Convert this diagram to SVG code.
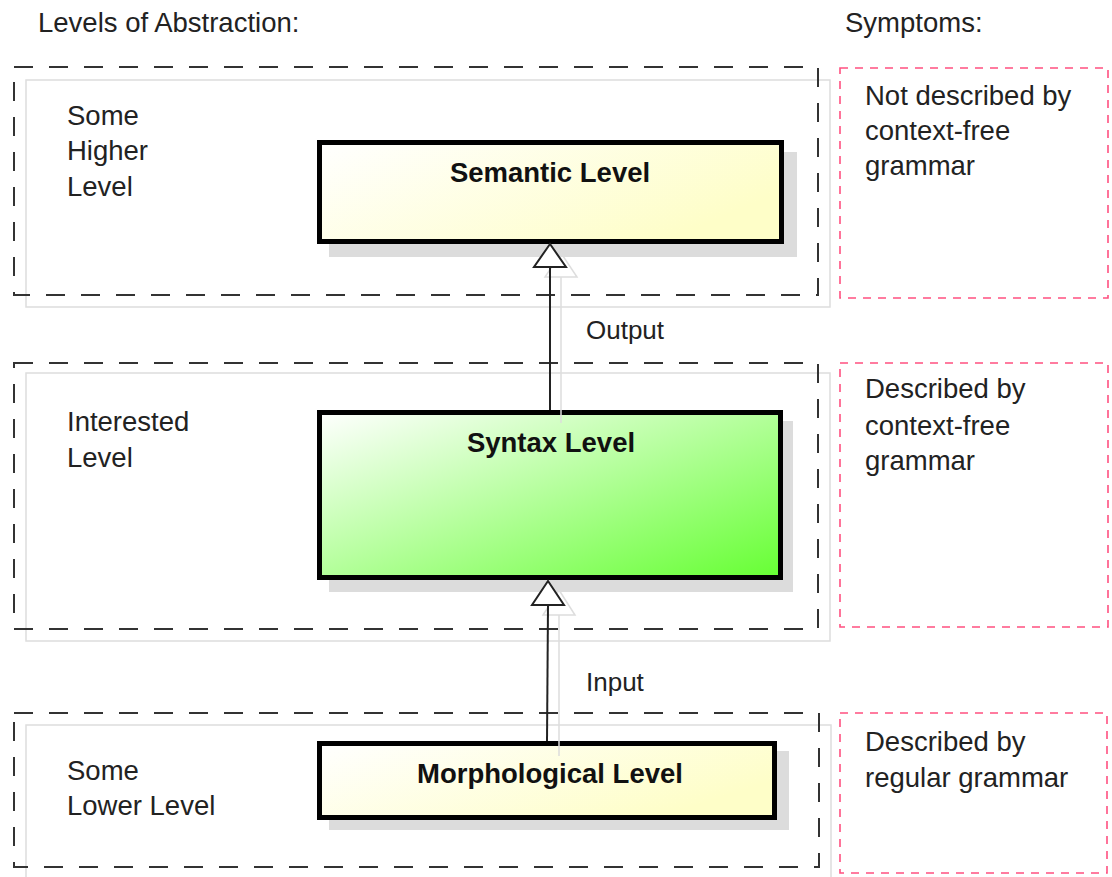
<svg xmlns="http://www.w3.org/2000/svg" width="1112" height="877" viewBox="0 0 1112 877">
<defs>
<linearGradient id="gy" x1="0" y1="0" x2="1" y2="0.5">
<stop offset="0" stop-color="#ffffff"/>
<stop offset="1" stop-color="#fefec8"/>
</linearGradient>
<linearGradient id="gg" x1="0" y1="0" x2="1" y2="1">
<stop offset="0" stop-color="#ffffff"/>
<stop offset="1" stop-color="#66ff33"/>
</linearGradient>
<style>
.t{font-family:"Liberation Sans",Arial,sans-serif;font-size:27.5px;fill:#222}
.b{font-family:"Liberation Sans",Arial,sans-serif;font-size:27.5px;font-weight:bold;fill:#111;text-anchor:middle}
.dash{fill:none;stroke:#333;stroke-width:2;stroke-dasharray:19 16}
.pink{fill:none;stroke:#ff5080;stroke-width:1.6;stroke-dasharray:8 7}
.frame{fill:none;stroke:#ddd;stroke-width:1.5}
.shadow{fill:#dcdcdc}
.box{stroke:#000;stroke-width:5}
.edge{stroke:#222;stroke-width:2;fill:none}
.ghost{stroke:#ddd;stroke-width:1.5;fill:none}
.head{fill:#fff;stroke:#222;stroke-width:2}
</style>
</defs>
<rect width="1112" height="877" fill="#fff"/>

<g id="headers">
<text class="t" x="38" y="32">Levels of Abstraction:</text>
<text class="t" x="845" y="32">Symptoms:</text>
</g>

<g id="higher-level">
<rect class="frame" x="26" y="80" width="804" height="227"/>
<rect class="dash" x="14" y="67" width="804" height="228"/>
<text class="t" x="67" y="125">Some</text>
<text class="t" x="67" y="160">Higher</text>
<text class="t" x="67" y="196">Level</text>
</g>

<g id="interested-level">
<rect class="frame" x="26" y="373" width="804" height="268"/>
<rect class="dash" x="14" y="363" width="804" height="266"/>
<text class="t" x="67" y="431">Interested</text>
<text class="t" x="67" y="467">Level</text>
</g>

<g id="lower-level">
<rect class="frame" x="26" y="725" width="805" height="180"/>
<rect class="dash" x="14" y="713" width="805" height="154"/>
<text class="t" x="67" y="780">Some</text>
<text class="t" x="67" y="815">Lower Level</text>
</g>

<g id="symptom-higher">
<rect class="pink" x="840" y="68" width="268" height="230"/>
<text class="t" x="865" y="105">Not described by</text>
<text class="t" x="865" y="140">context-free</text>
<text class="t" x="865" y="175">grammar</text>
</g>

<g id="symptom-interested">
<rect class="pink" x="840" y="363" width="268" height="264"/>
<text class="t" x="865" y="398">Described by</text>
<text class="t" x="865" y="435">context-free</text>
<text class="t" x="865" y="470">grammar</text>
</g>

<g id="symptom-lower">
<rect class="pink" x="840" y="713" width="267" height="160"/>
<text class="t" x="865" y="751">Described by</text>
<text class="t" x="865" y="787">regular grammar</text>
</g>

<g id="semantic-level">
<rect class="shadow" x="329" y="152" width="468" height="105"/>
<rect class="box" x="319.5" y="142.5" width="462" height="99" fill="url(#gy)"/>
<text class="b" x="550" y="182">Semantic Level</text>
</g>

<g id="syntax-level">
<rect class="shadow" x="329" y="421" width="464" height="171"/>
<rect class="box" x="319.5" y="412.5" width="461" height="165" fill="url(#gg)"/>
<text class="b" x="551" y="452">Syntax Level</text>
</g>

<g id="morphological-level">
<rect class="shadow" x="329" y="751" width="460" height="79"/>
<rect class="box" x="319.5" y="743.5" width="455" height="74" fill="url(#gy)"/>
<text class="b" x="550" y="783">Morphological Level</text>
</g>

<g id="connectors">
<line class="ghost" x1="561" y1="277" x2="561" y2="423"/>
<polygon class="ghost" points="561,253 545,277 577,277"/>
<line class="edge" x1="550" y1="410" x2="550" y2="267"/>
<polygon class="head" points="550,244 534,267 566,267"/>
<text class="t" x="586" y="339" style="font-size:26px">Output</text>

<line class="ghost" x1="559" y1="615" x2="559" y2="756"/>
<polygon class="ghost" points="559,590 543,615 575,615"/>
<line class="edge" x1="547" y1="741" x2="548" y2="605"/>
<polygon class="head" points="548,581 532,605 564,605"/>
<text class="t" x="586" y="691" style="font-size:26px">Input</text>
</g>
</svg>
